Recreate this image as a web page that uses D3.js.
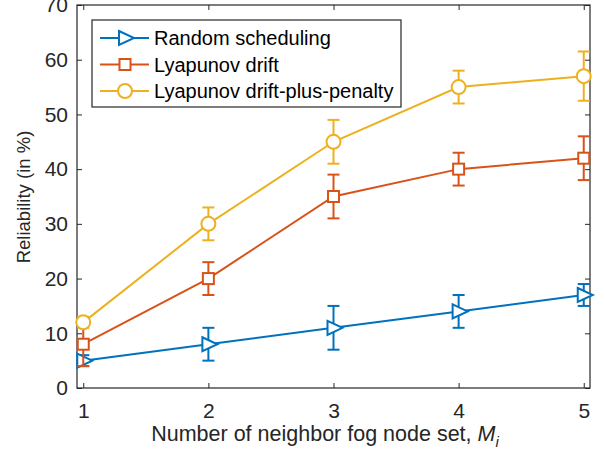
<!DOCTYPE html>
<html>
<head>
<meta charset="utf-8">
<script src="https://cdn.jsdelivr.net/npm/d3@7"></script>
<style>
  body { margin: 0; background: #fff; }
  text { font-family: "Liberation Sans", Arial, sans-serif; fill: #262626; }
</style>
</head>
<body>
<svg id="chart" width="605" height="465"></svg>
<script>
// data
var xVals = [1, 2, 3, 4, 5];
var randomVals = [5, 8, 11, 14, 17];
var randomErr = [1, 3, 4, 3, 2];
var driftVals = [8, 20, 35, 40, 42];
var driftErr = [4, 3, 4, 3, 4];
var dppVals = [12, 30, 45, 55, 57];
var dppErr = [1, 3, 4, 3, 4.5];
var yTicks = [0, 10, 20, 30, 40, 50, 60, 70];
var seriesNames = ["Random scheduling", "Lyapunov drift", "Lyapunov drift-plus-penalty"];

var margin = {left: 77, right: 15, top: 5, bottom: 77},
    width = 605 - margin.left - margin.right,
    height = 465 - margin.top - margin.bottom;

var svg = d3.select("#chart");
var g = svg.append("g").attr("transform", "translate(" + margin.left + "," + margin.top + ")");

var x = d3.scaleLinear().domain([0.95, 5.05]).range([0, width]);
var y = d3.scaleLinear().domain([0, 70]).range([height, 0]);

var axisColor = "#262626";

// axes with inward ticks on all four sides
g.append("g")
    .attr("transform", "translate(0," + height + ")")
    .call(d3.axisBottom(x).tickValues(xVals).tickSize(-5).tickPadding(15).tickFormat(d3.format("d")))
    .call(function(a){ a.select(".domain").remove(); });
g.append("g")
    .call(d3.axisTop(x).tickValues(xVals).tickSize(-5).tickFormat(""))
    .call(function(a){ a.select(".domain").remove(); });
g.append("g")
    .call(d3.axisLeft(y).tickValues(yTicks).tickSize(-5).tickPadding(9))
    .call(function(a){ a.select(".domain").remove(); });
g.append("g")
    .attr("transform", "translate(" + width + ",0)")
    .call(d3.axisRight(y).tickValues(yTicks).tickSize(-5).tickFormat(""))
    .call(function(a){ a.select(".domain").remove(); });

g.selectAll(".tick line").attr("stroke", axisColor).attr("stroke-width", 1);
g.selectAll(".tick text").attr("font-size", 21).style("fill", axisColor);

g.append("rect")
    .attr("width", width).attr("height", height)
    .attr("fill", "none").attr("stroke", axisColor).attr("stroke-width", 1.2);

// axis labels
svg.append("text")
    .attr("x", 325).attr("y", 441)
    .attr("text-anchor", "middle").attr("font-size", 21.5)
    .html('Number of neighbor fog node set, <tspan font-style="italic">M</tspan><tspan font-style="italic" font-size="15" dy="6">i</tspan>');
svg.append("text")
    .attr("transform", "translate(30,197) rotate(-90)")
    .attr("text-anchor", "middle").attr("font-size", 18.5)
    .text("Reliability (in %)");

var series = [
  {name: seriesNames[0], vals: randomVals, err: randomErr, color: "#0072BD", marker: "tri"},
  {name: seriesNames[1], vals: driftVals, err: driftErr, color: "#D95319", marker: "sq"},
  {name: seriesNames[2], vals: dppVals, err: dppErr, color: "#EDB120", marker: "circ"}
];

function drawMarker(sel, type, color) {
  if (type === "tri") {
    sel.append("path").attr("d", "M-6,-7L9,0L-6,7Z");
  } else if (type === "sq") {
    sel.append("rect").attr("x", -5.5).attr("y", -5.5).attr("width", 11).attr("height", 11);
  } else {
    sel.append("circle").attr("r", 7);
  }
  sel.selectAll("path,rect,circle")
      .attr("fill", "#fff").attr("stroke", color).attr("stroke-width", 2);
}

var line = d3.line().x(function(d){ return x(d[0]); }).y(function(d){ return y(d[1]); });

series.forEach(function(s) {
  var pts = xVals.map(function(xv, i){ return [xv, s.vals[i], s.err[i]]; });
  var sg = g.append("g");
  sg.append("path")
      .attr("d", line(pts))
      .attr("fill", "none").attr("stroke", s.color).attr("stroke-width", 2);
  var eb = sg.selectAll(".eb").data(pts).enter().append("g").attr("class", "eb");
  eb.append("line")
      .attr("x1", function(d){ return x(d[0]); }).attr("x2", function(d){ return x(d[0]); })
      .attr("y1", function(d){ return y(d[1] - d[2]); }).attr("y2", function(d){ return y(d[1] + d[2]); });
  eb.append("line")
      .attr("x1", function(d){ return x(d[0]) - 6; }).attr("x2", function(d){ return x(d[0]) + 6; })
      .attr("y1", function(d){ return y(d[1] - d[2]); }).attr("y2", function(d){ return y(d[1] - d[2]); });
  eb.append("line")
      .attr("x1", function(d){ return x(d[0]) - 6; }).attr("x2", function(d){ return x(d[0]) + 6; })
      .attr("y1", function(d){ return y(d[1] + d[2]); }).attr("y2", function(d){ return y(d[1] + d[2]); });
  eb.selectAll("line").attr("stroke", s.color).attr("stroke-width", 2);
  sg.selectAll(".mk").data(pts).enter().append("g").attr("class", "mk")
      .attr("transform", function(d){ return "translate(" + x(d[0]) + "," + y(d[1]) + ")"; })
      .each(function(){ drawMarker(d3.select(this), s.marker, s.color); });
});

// legend
var leg = svg.append("g").attr("transform", "translate(92,20)");
leg.append("rect")
    .attr("width", 309).attr("height", 87)
    .attr("fill", "#fff").attr("stroke", axisColor).attr("stroke-width", 1.2);
series.forEach(function(s, i) {
  var row = leg.append("g").attr("transform", "translate(0," + (18 + i * 26.5) + ")");
  row.append("line").attr("x1", 8).attr("x2", 57).attr("y1", 0).attr("y2", 0)
      .attr("stroke", s.color).attr("stroke-width", 2);
  var m = row.append("g").attr("transform", "translate(33,0)");
  drawMarker(m, s.marker, s.color);
  row.append("text").attr("x", 62).attr("y", 7).attr("font-size", 20)
      .style("fill", "#000").text(s.name);
});
</script>
</body>
</html>
